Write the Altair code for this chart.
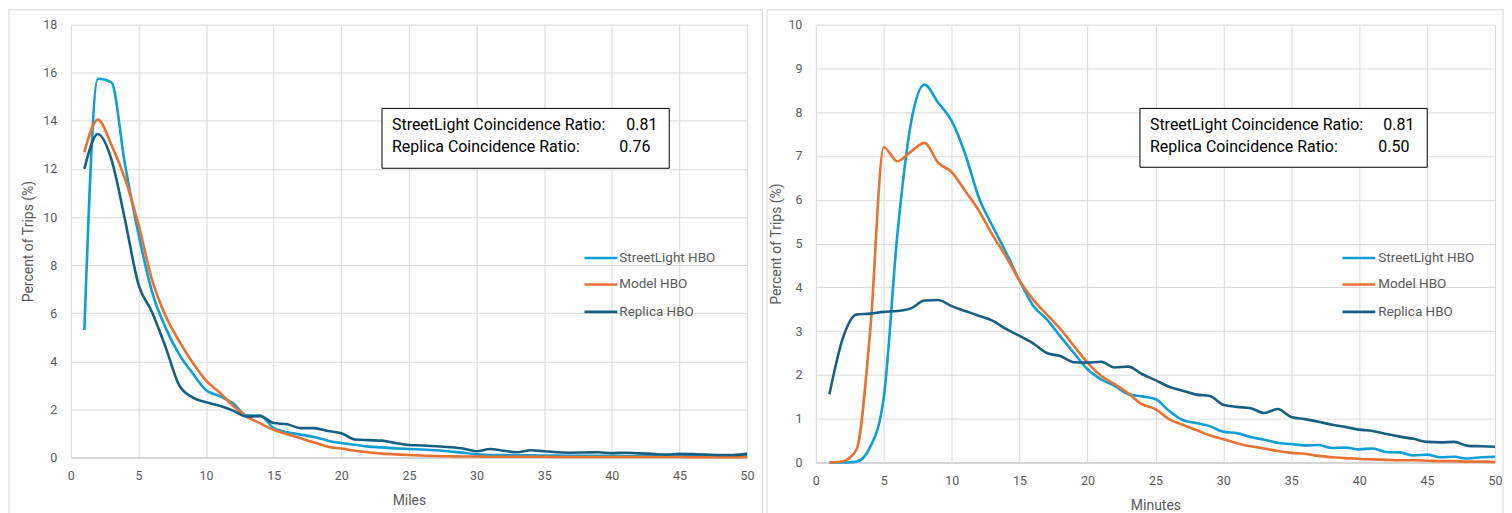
import altair as alt
import pandas as pd

# ---------------- data ----------------
x_vals = list(range(1, 51))
series_names = ["StreetLight HBO", "Model HBO", "Replica HBO"]
series_colors = ["#0F9ED5", "#E97132", "#156082"]

miles_streetlight = [5.3, 15.75, 15.6, 12.2, 9.3, 6.9, 5.4, 4.3, 3.5, 2.8,
                     2.55, 2.25, 1.75, 1.74, 1.22, 1.05, 0.95, 0.85, 0.7, 0.6,
                     0.53, 0.45, 0.42, 0.38, 0.35, 0.33, 0.3, 0.25, 0.2, 0.13,
                     0.1, 0.1, 0.09, 0.09, 0.08, 0.08, 0.07, 0.07, 0.07, 0.06,
                     0.06, 0.06, 0.06, 0.05, 0.05, 0.05, 0.05, 0.05, 0.05, 0.05]
miles_model = [12.7, 14.05, 13.0, 11.6, 9.7, 7.4, 5.9, 4.85, 3.95, 3.2,
               2.7, 2.15, 1.7, 1.42, 1.15, 0.97, 0.8, 0.62, 0.45, 0.37,
               0.28, 0.22, 0.16, 0.13, 0.1, 0.08, 0.06, 0.05, 0.04, 0.04,
               0.03, 0.03, 0.03, 0.03, 0.03, 0.02, 0.02, 0.02, 0.02, 0.02,
               0.02, 0.02, 0.02, 0.02, 0.02, 0.01, 0.01, 0.01, 0.01, 0.01]
miles_replica = [12.0, 13.45, 12.4, 9.9, 7.2, 6.05, 4.6, 3.02, 2.5, 2.3,
                 2.15, 1.95, 1.7, 1.72, 1.43, 1.38, 1.22, 1.22, 1.1, 1.01,
                 0.75, 0.72, 0.7, 0.6, 0.52, 0.5, 0.47, 0.43, 0.37, 0.26,
                 0.35, 0.28, 0.22, 0.3, 0.26, 0.22, 0.2, 0.21, 0.22, 0.18,
                 0.2, 0.17, 0.15, 0.12, 0.15, 0.14, 0.12, 0.1, 0.1, 0.16]

min_streetlight = [0, 0, 0.02, 0.35, 1.48, 5.2, 7.75, 8.63, 8.22, 7.8,
                   7.04, 6.05, 5.4, 4.8, 4.15, 3.58, 3.27, 2.88, 2.5, 2.13,
                   1.9, 1.75, 1.56, 1.51, 1.45, 1.18, 0.97, 0.9, 0.83, 0.7,
                   0.67, 0.58, 0.52, 0.45, 0.42, 0.39, 0.4, 0.33, 0.34, 0.3,
                   0.32, 0.24, 0.23, 0.16, 0.18, 0.12, 0.13, 0.09, 0.12, 0.13]
min_model = [0, 0.03, 0.3, 3.0, 7.2, 6.88, 7.1, 7.3, 6.85, 6.63,
             6.2, 5.75, 5.2, 4.7, 4.15, 3.72, 3.38, 3.05, 2.66, 2.28,
             1.98, 1.79, 1.58, 1.33, 1.22, 0.99, 0.86, 0.74, 0.62, 0.53,
             0.44, 0.37, 0.32, 0.26, 0.22, 0.2, 0.15, 0.12, 0.1, 0.08,
             0.07, 0.06, 0.05, 0.05, 0.04, 0.03, 0.03, 0.02, 0.02, 0.01]
min_replica = [1.56, 2.85, 3.38, 3.40, 3.44, 3.46, 3.52, 3.7, 3.71, 3.57,
               3.46, 3.35, 3.24, 3.05, 2.89, 2.72, 2.5, 2.43, 2.29, 2.28,
               2.3, 2.17, 2.19, 2.02, 1.88, 1.73, 1.64, 1.55, 1.52, 1.32,
               1.27, 1.24, 1.13, 1.22, 1.04, 0.99, 0.93, 0.86, 0.81, 0.75,
               0.72, 0.65, 0.59, 0.54, 0.47, 0.46, 0.47, 0.38, 0.37, 0.36]

x_ticks = list(range(0, 51, 5))
miles_y_ticks = list(range(0, 19, 2))
min_y_ticks = list(range(0, 11, 1))

miles_ratios = [("StreetLight Coincidence Ratio:", "0.81"), ("Replica Coincidence Ratio:", "0.76")]
min_ratios = [("StreetLight Coincidence Ratio:", "0.81"), ("Replica Coincidence Ratio:", "0.50")]

FONT = "Roboto"


def long_df(arrs):
    rows = []
    for name, arr in zip(series_names, arrs):
        for x, v in zip(x_vals, arr):
            rows.append({"x": x, "value": v, "series": name})
    return pd.DataFrame(rows)


def panel(df, xtitle, ymax, yticks, w, h, ytitle_pad, ratios, box, legend, frame):
    xs = alt.Scale(domain=[0, 50], nice=False)
    ys = alt.Scale(domain=[0, ymax], nice=False)
    xaxis = alt.Axis(values=x_ticks, title=xtitle, labelFlush=False, grid=True)
    yaxis = alt.Axis(values=yticks, title="Percent of Trips (%)", domain=False,
                     titlePadding=ytitle_pad, grid=True)
    dummy = pd.DataFrame({"a": [0]})
    fx0, fx1, fy0, fy1 = frame
    layers = [
        alt.Chart(dummy).mark_rect(fill="transparent", stroke="#d9d9d9", strokeWidth=1)
        .encode(x=alt.value(fx0), x2=alt.value(fx1), y=alt.value(fy0), y2=alt.value(fy1))
    ]
    for i, name in enumerate(series_names):
        layers.append(
            alt.Chart(df).transform_filter(alt.datum.series == name)
            .mark_line(interpolate="monotone", strokeWidth=2.6, color=series_colors[i])
            .encode(x=alt.X("x:Q", scale=xs, axis=xaxis),
                    y=alt.Y("value:Q", scale=ys, axis=yaxis))
        )
    bx0, bx1, by0, by1, tx, vx0, vx1, ty0, ty1 = box
    layers.append(
        alt.Chart(dummy).mark_rect(fill="white", stroke="black", strokeWidth=1)
        .encode(x=alt.value(bx0), x2=alt.value(bx1), y=alt.value(by0), y2=alt.value(by1))
    )
    for (label, val), ty, vx in zip(ratios, [ty0, ty1], [vx0, vx1]):
        layers.append(
            alt.Chart(dummy).mark_text(text=label, align="left", baseline="middle",
                                       font=FONT, fontSize=16, color="black")
            .encode(x=alt.value(tx), y=alt.value(ty))
        )
        layers.append(
            alt.Chart(dummy).mark_text(text=val, align="left", baseline="middle",
                                       font=FONT, fontSize=16, color="black")
            .encode(x=alt.value(vx), y=alt.value(ty))
        )
    lx0, lx1, llab, lys = legend
    for i, name in enumerate(series_names):
        layers.append(
            alt.Chart(dummy).mark_rule(color=series_colors[i], strokeWidth=2.6)
            .encode(x=alt.value(lx0), x2=alt.value(lx1), y=alt.value(lys[i]))
        )
        layers.append(
            alt.Chart(dummy).mark_text(text=name, align="left", baseline="middle",
                                       font=FONT, fontSize=13.5, color="#595959")
            .encode(x=alt.value(llab), y=alt.value(lys[i]))
        )
    return alt.layer(*layers).properties(width=w, height=h)


left = panel(long_df([miles_streetlight, miles_model, miles_replica]), "Miles", 18,
             miles_y_ticks, 678, 434, 7, miles_ratios,
             (312, 600, 84, 144, 322, 557, 550, 100.5, 123),
             (515, 548, 550, [234, 260.5, 288]),
             (-62, 693.5, -15, 495))
right = panel(long_df([min_streetlight, min_model, min_replica]), "Minutes", 10,
              min_y_ticks, 681, 439, 4, min_ratios,
              (325, 613, 84, 143, 335, 569, 564, 100.5, 123),
              (528, 561, 564, [234, 260.5, 288]),
              (-49, 689, -15, 495))

chart = (
    alt.hconcat(left, right, spacing=3)
    .properties(padding={"left": 0, "top": 0, "right": 0, "bottom": 0})
    .configure_view(stroke=None)
    .configure_axis(labelFont=FONT, titleFont=FONT, labelColor="#595959",
                    titleColor="#595959", labelFontSize=12.5, titleFontSize=14,
                    titleFontWeight="normal", gridColor="#d9d9d9", gridWidth=1,
                    domainColor="#bfbfbf", ticks=False)
    .configure_axisX(labelPadding=12, titlePadding=12)
    .configure_axisY(labelPadding=14)
)

chart.save("out.html", embed_options={"renderer": "svg", "actions": False})
